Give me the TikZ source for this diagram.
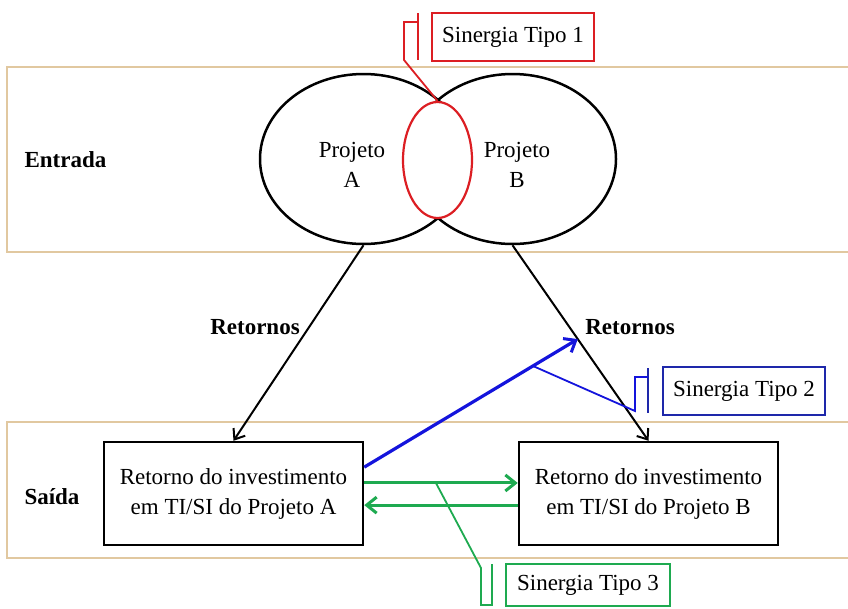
\documentclass[tikz,border=0pt]{standalone}
\usepackage{fontspec}
\setmainfont{Liberation Serif}
\usetikzlibrary{shapes.geometric,arrows.meta,calc}
\definecolor{bandtan}{RGB}{225,200,160}
\definecolor{synred}{RGB}{220,30,35}
\definecolor{synblue}{RGB}{20,20,220}
\definecolor{synnavy}{RGB}{30,40,170}
\definecolor{syngreen}{RGB}{30,170,80}
\begin{document}
\begin{tikzpicture}[x=1pt,y=-1pt,
  every node/.style={font=\fontsize{23}{30}\selectfont},
  band/.style={draw=bandtan,line width=1.2pt},
  bandlabel/.style={font=\fontsize{23}{30}\selectfont\bfseries},
  project/.style={ellipse,draw=black,line width=2.5pt,minimum width=207,minimum height=170,inner sep=0},
  result/.style={draw=black,line width=2.5pt,minimum width=259,minimum height=103,align=center,inner sep=0},
  synbox/.style={draw=#1,line width=2pt,minimum width=162,minimum height=48,inner sep=0},
  barb/.style={-{Straight Barb[length=9pt,width=14pt,line width=2pt]}},
  ret/.style={black,line width=2pt,barb},
  leader/.style={line width=1.8pt},
  accent/.style={line width=2.2pt}]
\useasboundingbox (0,0) rectangle (848,608);
\fill[white] (0,0) rectangle (848,608);

% input and output bands
\draw[band] (848,67) -- (7,67) -- (7,252) -- (848,252);
\draw[band] (848,422) -- (7,422) -- (7,558) -- (848,558);
\node[bandlabel] (entrada) at (65.5,160) {Entrada};
\node[bandlabel] (saida) at (52,497) {Saída};

% projects and their overlap (the overlap is filled, hiding the inner arcs)
\node[project] (ea) at (363.5,159) {};
\node[project] (eb) at (512.5,159) {};
\node[ellipse,draw=synred,fill=white,line width=2.2pt,minimum width=69,minimum height=116,inner sep=0] (ov) at (437.5,160) {};
\node[align=center] (ta) at (352,165) {Projeto\\A};
\node[align=center] (tb) at (517,165) {Projeto\\B};

% returns
\node[result] (ba) at (233.5,493.5) {Retorno do investimento\\em TI/SI do Projeto A};
\node[result] (bb) at (648.5,493.5) {Retorno do investimento\\em TI/SI do Projeto B};
\draw[ret] (ea.south) -- (ba.north);
\draw[ret] (eb.south) -- (bb.north);
\node[bandlabel] (reta) at (255,327) {Retornos};
\node[bandlabel] (retb) at (630,327) {Retornos};

% synergy arrows
\coordinate (bstart) at ($(ba.north east)!0.25!(ba.south east)$);
\coordinate (bend) at ($(eb.south)!0.48!(bb.north)$);
\draw[synblue,line width=3.2pt,-{Straight Barb[length=10pt,width=16pt,line width=3pt]}] (bstart) -- (bend);
\coordinate (gab) at ($(ba.north east)!0.4!(ba.south east)$);
\coordinate (gbb) at ($(bb.north west)!0.4!(bb.south west)$);
\coordinate (gba) at ($(bb.north west)!0.61!(bb.south west)$);
\coordinate (gaa) at ($(ba.north east)!0.61!(ba.south east)$);
\draw[syngreen,line width=3pt,-{Straight Barb[length=10pt,width=16pt,line width=3pt]}] (gab) -- (gbb);
\draw[syngreen,line width=3pt,-{Straight Barb[length=10pt,width=16pt,line width=3pt]}] (gba) -- (gaa);

% synergy callouts
\node[synbox=synred] (s1) at (513,37) {Sinergia Tipo 1};
\draw[synred,accent] (418,13) -- (418,60);
\draw[synred,leader] (418,22) -- (404,22) -- (404,60) -- (ov.north);

\node[synbox=synnavy] (s2) at (744,391) {Sinergia Tipo 2};
\coordinate (p2) at ($(bstart)!0.79!(bend)$);
\draw[synnavy,accent] (648,368) -- (648,413);
\draw[synblue,leader] (p2) -- (635,411) -- (635,377) -- (648,377);

\node[synbox=syngreen,minimum width=164,minimum height=42] (s3) at (588,585) {Sinergia Tipo 3};
\coordinate (p3) at ($(gab)!0.467!(gbb)$);
\draw[syngreen,accent] (492,564) -- (492,606);
\draw[syngreen,leader] (p3) -- (481,568) -- (481,605) -- (492,605);
\end{tikzpicture}
\end{document}
